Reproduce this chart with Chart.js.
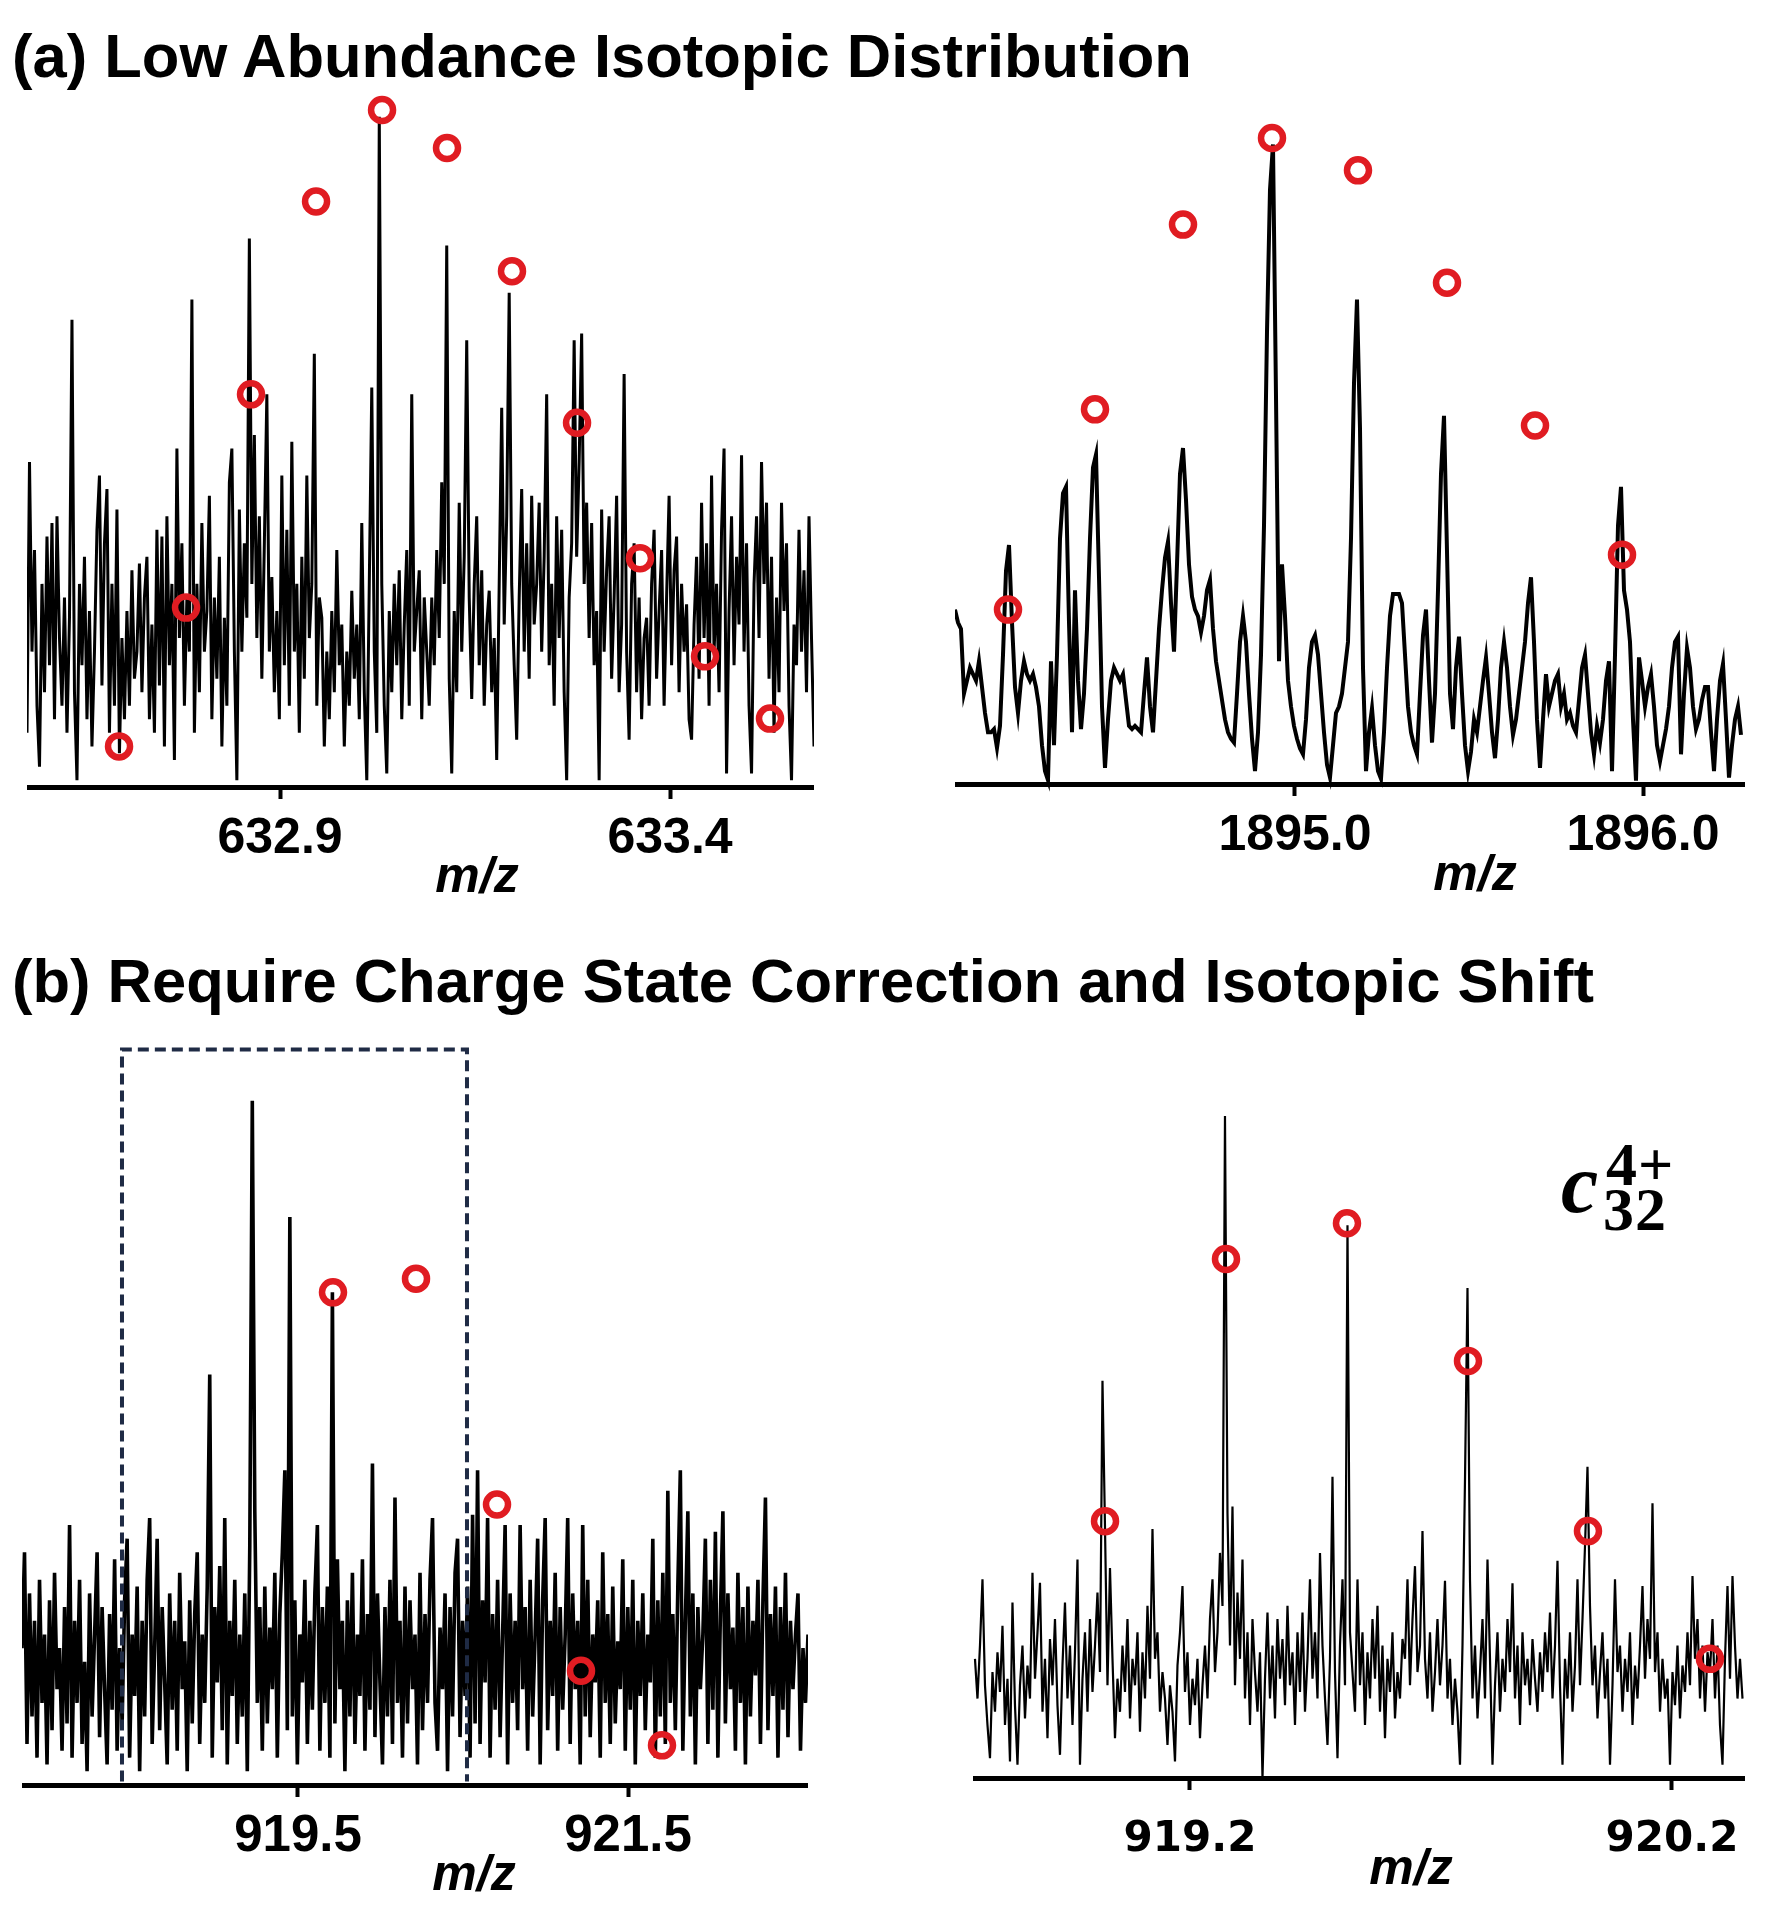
<!DOCTYPE html>
<html>
<head>
<meta charset="utf-8">
<title>Isotopic distributions</title>
<script src="https://cdn.jsdelivr.net/npm/chart.js@4.4.0/dist/chart.umd.min.js"></script>
<style>
  html, body { margin: 0; padding: 0; background: #fff; }
  #page { position: relative; width: 1774px; height: 1920px; overflow: hidden; background: #fff; }
  #page canvas { position: absolute; }
  .txt { position: absolute; white-space: nowrap; color: #000; line-height: 1; }
  .title { font: bold 61.5px "Liberation Sans", Arial, sans-serif; left: 12px; }
  .mz { font: italic bold 50px "Liberation Sans", Arial, sans-serif; transform: translate(-50%, -50%); }
  .ion { font-family: "Liberation Serif", "DejaVu Serif", serif; font-weight: bold; }
</style>
</head>
<body>
<div id="page">
  <div class="txt title" style="top:20px">(a) Low Abundance Isotopic Distribution</div>
  <div class="txt title" style="top:945px">(b) Require Charge State Correction and Isotopic Shift</div>

  <canvas id="chart_a" width="787" height="817" style="left:27px;top:80px"></canvas>
  <canvas id="chart_b" width="790" height="786" style="left:955px;top:108px"></canvas>
  <canvas id="chart_c" width="786" height="879" style="left:22px;top:1016px"></canvas>
  <canvas id="chart_d" width="772" height="802" style="left:973px;top:1086px"></canvas>

  <div class="txt mz" style="left:477px;top:875px">m/z</div>
  <div class="txt mz" style="left:1475px;top:873px">m/z</div>
  <div class="txt mz" style="left:474px;top:1873px">m/z</div>
  <div class="txt mz" style="left:1411px;top:1867px">m/z</div>

  <div class="txt ion" style="left:1561px;top:1142px;font-size:84px;font-style:italic">c</div>
  <div class="txt ion" style="left:1606px;top:1133px;font-size:62px;letter-spacing:1px">4+</div>
  <div class="txt ion" style="left:1603px;top:1178px;font-size:62px;letter-spacing:1px">32</div>
</div>

<script>
// ---------- (a) left : 632.x m/z, z = 12 ----------
const a_ticks = [632.9, 633.4];
const a_axis_mz = [632.5756, 633.5846];
const a_trace_mz = [632.5756, 633.5846];
const a_intensity = [
  8, 48, 20, 35, 12, 3, 30, 14, 37, 18, 39, 10, 40, 22, 12, 28, 8, 25, 69, 14,
  1, 30, 18, 34, 10, 26, 6, 20, 38, 46, 15, 36, 44, 8, 30, 12, 41, 5, 22, 10,
  26, 12, 32, 16, 20, 33, 14, 28, 34, 10, 24, 8, 38, 15, 37, 6, 40, 18, 30, 4,
  50, 22, 36, 12, 28, 20, 72, 8, 30, 14, 39, 20, 26, 43, 10, 28, 16, 34, 6, 25,
  12, 45, 50, 20, 1, 41, 20, 36, 25, 81, 30, 52, 22, 40, 16, 36, 58, 20, 31, 14,
  26, 10, 46, 18, 38, 12, 51, 20, 30, 8, 34, 16, 46, 22, 30, 64, 12, 28, 25, 6,
  20, 10, 26, 14, 35, 18, 24, 6, 20, 12, 29, 16, 24, 10, 39, 14, 1, 30, 59, 20,
  8, 99, 30, 12, 2, 26, 14, 30, 18, 32, 10, 24, 35, 12, 58, 20, 26, 32, 10, 28,
  20, 12, 28, 18, 35, 22, 45, 30, 80, 16, 2, 26, 14, 42, 20, 34, 66, 28, 13, 30,
  40, 18, 32, 12, 24, 29, 14, 22, 4, 30, 56, 24, 40, 73, 30, 18, 7, 28, 44, 20,
  36, 16, 43, 24, 30, 42, 20, 34, 58, 18, 30, 12, 40, 22, 38, 14, 1, 28, 36, 66,
  34, 48, 67, 30, 42, 22, 39, 18, 26, 1, 41, 20, 32, 40, 16, 28, 43, 14, 24, 61,
  20, 7, 30, 36, 14, 28, 10, 22, 25, 12, 30, 38, 16, 26, 35, 12, 28, 43, 18, 32,
  37, 14, 30, 20, 27, 10, 7, 24, 34, 16, 42, 22, 36, 12, 46, 20, 30, 14, 38, 50,
  2, 26, 40, 18, 34, 24, 49, 20, 36, 12, 2, 30, 40, 22, 48, 30, 42, 16, 34, 8,
  28, 14, 42, 26, 36, 12, 1, 24, 18, 38, 20, 32, 14, 40, 22, 6
];
const a_circle_mz = [632.6936, 632.7795, 632.8628, 632.9462, 633.0308, 633.1141, 633.1974, 633.2808, 633.3615, 633.4449, 633.5282];
const a_circle_int = [6, 26.5, 58, 86.5, 100, 94.4, 76.2, 53.8, 33.8, 19.3, 10.1];

// ---------- (a) right : 1895 m/z, z = 4 ----------
const b_ticks = [1895.0, 1896.0];
const b_axis_mz = [1894.023, 1896.2931];
const b_trace_mz = [1894.023, 1896.2816];
const b_intensity = [
  27, 25, 24, 14, 16, 18, 17, 16, 19, 15, 11, 8, 8, 8.5, 5.6, 9, 20, 33, 37, 25,
  15, 11, 16, 19, 17, 16, 17, 15, 12, 6, 2, 0.6, 19, 6, 20, 38, 45, 46, 25, 8,
  30, 16, 8.5, 14, 24, 38, 49, 51, 32, 12, 2.5, 10, 16, 18, 17, 16, 17, 13, 9, 8.5,
  9, 8.5, 8, 14, 19.6, 12, 8, 16, 24, 30, 35, 37.5, 28, 20.5, 34, 48, 52, 44, 34, 29,
  27, 26, 23.5, 26, 30, 31.6, 24, 19, 16, 13, 10, 8, 7, 6.4, 14, 22, 26, 22, 14, 7,
  2, 8, 20, 40, 70, 92, 99, 60, 19, 34, 26, 16, 12, 9, 7, 5.5, 4.6, 10, 18, 22,
  23, 20, 14, 8, 3, 1, 6, 11, 12, 14, 18, 22, 38, 62, 75, 55, 18, 2, 8, 11.7,
  6, 2, 0.8, 8, 18, 26, 29.4, 29.4, 29.4, 28, 20, 12, 8, 6, 4.6, 14, 23, 27, 16, 6.4,
  14, 30, 48, 57, 36, 14, 8.5, 18, 22.8, 14, 6, 2, 5, 10, 8, 12, 16, 19.6, 14, 8,
  4, 10, 18, 22, 18, 12, 7.6, 10, 14, 18, 22, 28, 32, 22, 10, 2.5, 10, 17, 12, 14,
  16, 17, 12, 14, 10, 11, 9, 8, 13, 18, 20, 14, 8, 4.6, 9, 6.4, 10, 16, 19, 2,
  20, 40, 46, 30, 27, 22, 10, 0.5, 19.6, 16, 12, 15, 17, 12, 6, 3.5, 6, 8.5, 12, 18,
  22, 22.8, 4.6, 14, 21, 18, 12, 8.5, 10, 13, 15, 15, 8, 2, 10, 16, 18.6, 10, 1, 6,
  10, 12, 7.6
];
const b_circle_mz = [1894.1753, 1894.4253, 1894.6782, 1894.9339, 1895.181, 1895.4368, 1895.6897, 1895.9397];
const b_circle_int = [27, 58, 86.6, 100, 95, 77.6, 55.5, 35.5];

// ---------- (b) left : wide window 918-922 m/z ----------
const c_ticks = [919.5, 921.5];
const c_axis_mz = [917.8273, 922.5909];
const c_trace_mz = [917.8273, 922.5909];
const c_intensity = [
  20, 34, 6, 28, 10, 24, 4, 30, 12, 22, 3, 27, 8, 31, 14, 20, 5, 26, 9, 38,
  4, 24, 12, 30, 6, 18, 2, 28, 10, 22, 34, 7, 26, 14, 3, 25, 11, 33, 5, 20,
  9, 27, 36, 4, 22, 13, 29, 2, 24, 10, 30, 39, 6, 20, 36, 8, 26, 15, 3, 28,
  11, 24, 5, 31, 14, 21, 2, 27, 9, 25, 34, 6, 22, 12, 29, 60, 4, 26, 15, 32,
  8, 39, 3, 24, 13, 30, 6, 22, 10, 28, 2, 35, 100, 40, 12, 26, 5, 29, 9, 23,
  14, 31, 4, 25, 34, 46, 8, 83, 10, 27, 3, 22, 15, 30, 6, 24, 11, 28, 38, 5,
  26, 12, 29, 4, 72, 9, 33, 14, 24, 2, 27, 10, 31, 6, 22, 13, 33, 5, 25, 11,
  47, 7, 28, 15, 3, 26, 10, 30, 6, 42, 12, 24, 4, 29, 9, 27, 14, 22, 3, 31,
  8, 25, 12, 30, 39, 12, 5, 23, 14, 28, 2, 26, 10, 31, 36, 7, 24, 13, 29, 4,
  39.5, 9, 46, 6, 27, 15, 39, 4, 25, 11, 30, 7, 22, 38, 3, 28, 12, 24, 8, 38,
  14, 26, 5, 30, 10, 22, 36, 3, 27, 39, 8, 24, 13, 31, 5, 26, 11, 22, 39, 6,
  28, 14, 24, 3, 38, 10, 30, 7, 22, 15, 27, 4, 34, 12, 25, 6, 29, 9, 21, 14,
  33, 5, 26, 11, 30, 3, 24, 13, 28, 8, 22, 15, 36, 4, 27, 10, 31, 6, 43, 12,
  25, 8, 29, 46, 5, 24, 40, 10, 28, 3, 26, 14, 22, 36, 6, 30, 11, 37, 4, 25,
  40, 9, 28, 14, 23, 5, 31, 12, 26, 3, 29, 10, 24, 16, 30, 6, 27, 42, 8, 25,
  13, 29, 4, 26, 11, 31, 7, 24, 14, 22, 28, 5, 20, 12, 22
];
const c_circle_mz = [919.7121, 920.2152, 920.7061, 921.2152, 921.7061];
const c_circle_int = [72, 74, 41, 16.7, 5.8];
// dashed zoom box (m/z, intensity corners)
const c_box_mz = [918.4333, 918.4333, 920.5242, 920.5242];
const c_box_int = [0.5, 107.5, 107.5, 0.5];

// ---------- (b) right : c32 4+ ----------
const d_ticks = [919.2, 920.2];
const d_axis_mz = [918.7498, 920.3515];
const d_trace_mz = [918.7539, 920.3463];
const d_intensity = [
  18, 12, 20, 30, 14, 8, 3, 16, 10, 19, 13, 23, 8, 15, 2.5, 26.5, 11, 2, 14, 20,
  9, 17, 12, 31, 15, 22, 29.5, 10, 18, 6, 21, 14, 24, 11, 3.5, 17, 26.5, 12, 20, 8,
  19, 33, 2, 15, 22, 10, 24, 13, 20, 28, 16, 60, 38, 14, 31.7, 18, 6, 15, 10, 20,
  13, 24, 9, 18, 14, 22, 7, 19, 12, 26, 15, 37.6, 18, 22, 10, 16, 12, 5, 14, 10,
  2.5, 17, 22, 29, 13, 19, 8, 15, 11, 18, 6, 14, 20, 12, 24, 30, 16, 22, 34, 26,
  100, 40, 20, 41, 14, 28, 18, 33, 12, 22, 8, 24, 16, 10, 19, 0, 15, 25, 12, 20,
  9, 24, 15, 21, 11, 26, 14, 19, 8, 22, 13, 25, 10, 18, 30, 15, 22, 12, 34, 20,
  12, 5, 18, 45.5, 16, 3, 20, 30, 14, 83.5, 22, 16, 10, 30, 14, 22, 8, 19, 12, 24,
  15, 26, 10, 20, 6, 18, 13, 22, 9, 16, 12, 21, 18, 30, 14, 24, 32, 16, 20, 37.3,
  18, 12, 22, 10, 16, 24, 14, 20, 29.8, 12, 18, 8, 15, 10, 2, 20, 45, 74, 30, 12,
  20, 9, 16, 24, 12, 33, 18, 2, 14, 22, 10, 18, 13, 24, 16, 29.4, 12, 20, 8, 22,
  14, 18, 11, 21, 15, 10, 19, 13, 22, 16, 25, 12, 20, 32.8, 14, 2, 18, 12, 22, 10,
  17, 30, 14, 24, 35, 47, 26, 14, 20, 9, 16, 22, 12, 18, 2, 14, 30, 16, 20, 10,
  18, 13, 22, 8, 17, 12, 20, 29, 15, 24, 18, 41.5, 16, 22, 10, 18, 12, 15, 2, 16,
  11, 20, 9, 17, 13, 22, 14, 30.5, 18, 24, 12, 20, 10, 19, 16, 24, 12, 20, 8, 2,
  18, 29, 15, 30.5, 20, 12, 18, 12
];
const d_circle_mz = [919.0237, 919.2747, 919.5257, 919.7768, 920.0257, 920.2788];
const d_circle_int = [38.8, 78.4, 83.8, 63, 37.3, 18];

const circle_red = "rgb(224, 28, 34)";
const sans = "'Liberation Sans', Arial, sans-serif";

// evenly sampled spectrum between two m/z values
function spectrum(vals, range) {
  const step = (range[1] - range[0]) / (vals.length - 1);
  return vals.map((v, i) => ({ x: range[0] + i * step, y: v }));
}

function pairs(xs, ys) {
  return xs.map((x, i) => ({ x: x, y: ys[i] }));
}

function draw_panel(p) {
  const datasets = [
    {
      type: "scatter",
      data: pairs(p.circle_mz, p.circle_int),
      pointStyle: "circle",
      pointRadius: 11,
      pointHoverRadius: 11,
      pointBorderWidth: 6.5,
      pointBorderColor: circle_red,
      pointBackgroundColor: "rgba(255,255,255,0)",
      clip: false,
    },
  ];
  if (p.box_mz) {
    datasets.push({
      type: "line",
      data: pairs(p.box_mz, p.box_int),
      borderColor: "#1f2b45",
      borderWidth: 4,
      borderDash: [11, 6],
      pointRadius: 0,
      fill: false,
      clip: false,
    });
  }
  datasets.push({
    type: "line",
    data: spectrum(p.trace, p.trace_mz),
    borderColor: "#000",
    borderWidth: p.line_width,
    pointRadius: 0,
    tension: 0,
    fill: false,
    clip: false,
  });

  return new Chart(document.getElementById(p.id), {
    type: "line",
    data: { datasets: datasets },
    options: {
      responsive: false,
      animation: false,
      events: [],
      layout: { autoPadding: false, padding: { top: 30, left: 0, right: 0, bottom: 0 } },
      plugins: { legend: { display: false }, tooltip: { enabled: false } },
      scales: {
        x: {
          type: "linear",
          min: p.axis_mz[0],
          max: p.axis_mz[1],
          afterBuildTicks: (scale) => {
            scale.ticks = p.ticks.map((v) => ({ value: v }));
          },
          afterFit: (scale) => {
            // axis spans the full canvas width, labels are well inside
            scale.height = 110;
            scale.paddingLeft = 0;
            scale.paddingRight = 0;
          },
          ticks: {
            autoSkip: false,
            maxRotation: 0,
            color: "#000",
            padding: p.tick_pad,
            font: p.tick_font,
            callback: (v) => Number(v).toFixed(1),
          },
          grid: {
            drawOnChartArea: false,
            drawTicks: true,
            tickLength: 12,
            tickWidth: 4,
            tickColor: "#000",
          },
          border: { display: true, color: "#000", width: 5 },
        },
        y: { display: false, min: 0, max: p.y_max },
      },
    },
  });
}

draw_panel({
  id: "chart_a", trace: a_intensity, trace_mz: a_trace_mz, axis_mz: a_axis_mz, ticks: a_ticks,
  circle_mz: a_circle_mz, circle_int: a_circle_int, y_max: 100, line_width: 3,
  tick_font: { family: sans, size: 50, weight: "bold" }, tick_pad: 10,
});
draw_panel({
  id: "chart_b", trace: b_intensity, trace_mz: b_trace_mz, axis_mz: b_axis_mz, ticks: b_ticks,
  circle_mz: b_circle_mz, circle_int: b_circle_int, y_max: 100, line_width: 4,
  tick_font: { family: sans, size: 50, weight: "bold" }, tick_pad: 10,
});
draw_panel({
  id: "chart_c", trace: c_intensity, trace_mz: c_trace_mz, axis_mz: c_axis_mz, ticks: c_ticks,
  circle_mz: c_circle_mz, circle_int: c_circle_int, box_mz: c_box_mz, box_int: c_box_int,
  y_max: 108, line_width: 3.6,
  tick_font: { family: sans, size: 51, weight: "bold" }, tick_pad: 9,
});
draw_panel({
  id: "chart_d", trace: d_intensity, trace_mz: d_trace_mz, axis_mz: d_axis_mz, ticks: d_ticks,
  circle_mz: d_circle_mz, circle_int: d_circle_int, y_max: 100, line_width: 2.2,
  tick_font: { family: "'DejaVu Sans', Verdana, sans-serif", size: 42, weight: "bold" }, tick_pad: 25,
});
</script>
</body>
</html>
